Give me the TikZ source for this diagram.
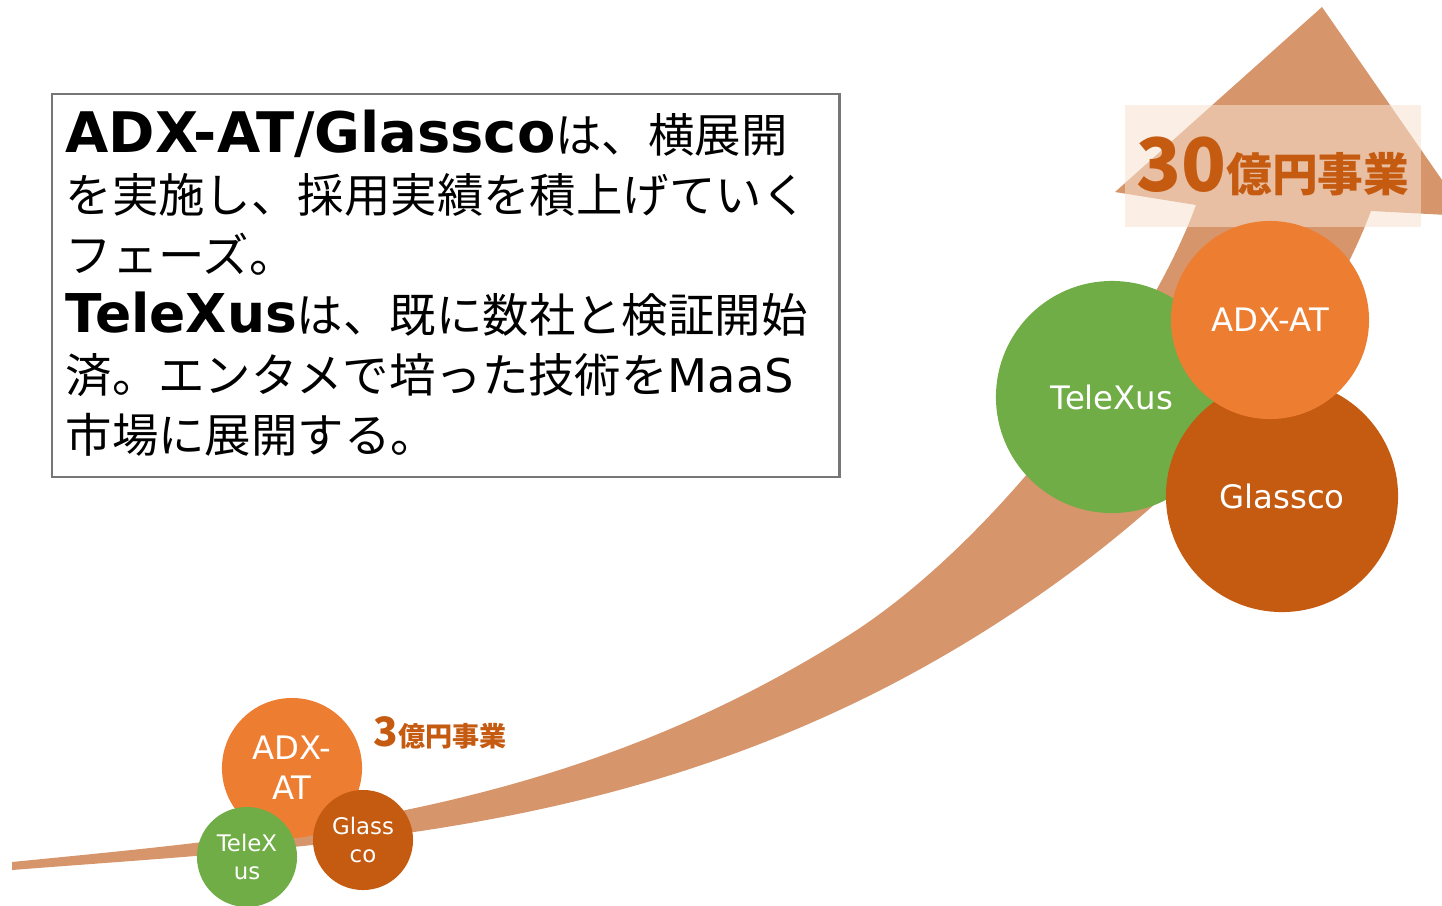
\documentclass[tikz,border=0pt]{standalone}
\usepackage{fontspec}
\setmainfont{Noto Sans CJK JP}
\newfontfamily\latinfont{DejaVu Sans}
\usetikzlibrary{calc,positioning}
\definecolor{arrowtan}{RGB}{214,149,106}
\definecolor{labeltint}{RGB}{248,226,208}
\definecolor{bubblegreen}{RGB}{112,173,71}
\definecolor{bubbleorange}{RGB}{237,125,49}
\definecolor{bubbledark}{RGB}{197,90,17}
\definecolor{framegray}{RGB}{118,118,118}
\tikzset{
  bubble/.style={circle, inner sep=0pt, text=white, align=center},
  bubble-green/.style={bubble, fill=bubblegreen},
  bubble-orange/.style={bubble, fill=bubbleorange},
  bubble-dark/.style={bubble, fill=bubbledark},
  bubble-big/.style={font=\latinfont\fontsize{9.2pt}{10pt}\selectfont},
  bubble-mid/.style={font=\latinfont\fontsize{9.2pt}{11.4pt}\selectfont},
  bubble-small/.style={font=\latinfont\fontsize{6.5pt}{8.2pt}\selectfont},
  goal-label/.style={text=bubbledark, font=\bfseries, inner sep=0pt}
}
\newcommand{\boldlatin}[2][15.2pt]{{\latinfont\bfseries\fontsize{#1}{17.07pt}\selectfont #2}}

\begin{document}
\begin{tikzpicture}[x=0.01cm, y=-0.01cm]
  \useasboundingbox (0,0) rectangle (1442,905);
  % Draw growth arrow
  \fill[arrowtan] (12,862) .. controls (292,834) and (566,813) .. (846,637)
    .. controls (996,543) and (1149,335) .. (1196,205)
    -- (1115,192) -- (1322,7) -- (1467,216) -- (1371,211)
    .. controls (1288,431) and (1046,613) .. (846,707)
    .. controls (566,839) and (292,848) .. (12,870) -- cycle;
  % Draw goal labels
  \node[goal-label, fill=labeltint, fill opacity=0.55, text opacity=1,
    minimum width=2.95cm, minimum height=1.21cm] (goal-big) at (1273,166)
    {{\fontsize{21pt}{21pt}\selectfont 30}\fontsize{13pt}{13pt}\selectfont 億円事業};
  \node[goal-label] (goal-small) at (440,733)
    {{\fontsize{11.5pt}{12pt}\selectfont 3}\fontsize{7.7pt}{8pt}\selectfont 億円事業};
  % Draw description box
  \node[draw=framegray, line width=0.6pt, inner sep=0pt, anchor=north west,
    minimum width=7.87cm, minimum height=3.83cm] (frame) at (51,93) {};
  \node[anchor=north west, inner sep=0pt, align=left,
    font=\fontsize{13.2pt}{17.07pt}\selectfont] (desc) at (65,109)
    {\boldlatin[15.9pt]{ADX-AT/Glassco}は、横展開\\
     を実施し、採用実績を積上げていく\\
     フェーズ。\\
     \boldlatin{TeleXus}は、既に数社と検証開始\\
     済。エンタメで培った技術を{\latinfont MaaS}\\
     市場に展開する。};
  % Draw bubbles, small stage
  \node[bubble-orange, bubble-mid, minimum size=1.40cm] (adx-small) at (292,768) {ADX-\\AT};
  \node[bubble-green, bubble-small, minimum size=1.0cm] (telexus-small) at (247,857) {TeleX\\us};
  \node[bubble-dark, bubble-small, minimum size=1.0cm] (glassco-small) at (363,840) {Glass\\co};
  % Draw bubbles, large stage
  \node[bubble-green, bubble-big, minimum size=2.32cm] (telexus-big) at (1112,397) {TeleXus};
  \node[bubble-dark, bubble-big, minimum size=2.32cm] (glassco-big) at (1282,496) {Glassco};
  \node[bubble-orange, bubble-big, minimum size=1.98cm] (adx-big) at (1270,320) {ADX-AT};
\end{tikzpicture}
\end{document}
